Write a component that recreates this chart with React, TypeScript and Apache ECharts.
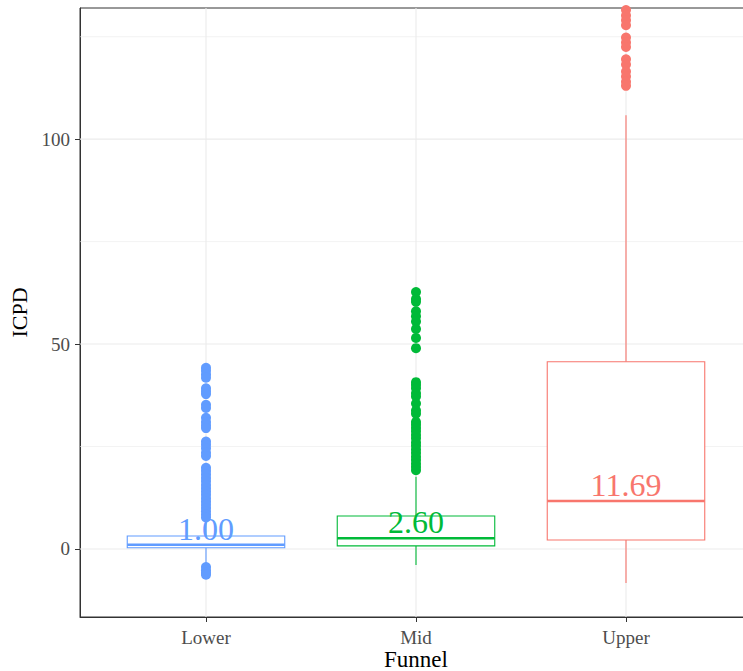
import React, { useEffect, useRef } from "react";
import * as echarts from "echarts";

const categories = ["Lower", "Mid", "Upper"];
const colors = ["#619CFF", "#00BA38", "#F8766D"];
const whiskerLow = [-3.4, -3.9, -8.3];
const q1 = [0.3, 0.75, 2.2];
const medians = [1.0, 2.6, 11.69];
const q3 = [3.15, 8.05, 45.7];
const whiskerHigh = [7.3, 17.6, 105.8];

const lowerOutliers = [
  44.2, 43.5, 42.6, 41.8, 39.2, 38.5, 37.8, 35.2, 34.4, 32.0, 31.0, 30.2, 29.5,
  26.2, 25.4, 24.6, 23.5, 22.7, 19.8, 19.0, 18.2, 17.3, 16.5, 15.6, 14.8, 14.0,
  13.2, 12.4, 11.6, 10.8, 10.0, 9.2, 8.4, 7.7, -4.4, -5.2, -5.8, -6.3,
];
const midOutliers = [
  62.7, 61.0, 60.3, 58.0, 56.8, 55.5, 53.7, 51.5, 49.0, 40.7, 40.0, 39.2, 38.0,
  37.2, 35.5, 33.8, 33.0, 31.0, 30.3, 29.5, 28.7, 27.8, 27.0, 26.0, 25.2, 24.3,
  23.4, 22.5, 21.7, 20.8, 20.0, 19.2,
];
const upperOutliers = [
  131.5, 130.2, 129.0, 127.8, 124.8, 123.6, 122.5, 119.5, 118.2, 116.5, 115.3,
  114.0, 113.0,
];
const outliers = [lowerOutliers, midOutliers, upperOutliers];

const yMajorTicks = [0, 50, 100];
const yMinorTicks = [25, 75, 125];
const yMin = -16.6;
const yMax = 132;
const xTitle = "Funnel";
const yTitle = "ICPD";

const FONT = "'Liberation Serif', 'DejaVu Serif', serif";

export default function App() {
  const ref = useRef<HTMLDivElement>(null);

  useEffect(() => {
    if (!ref.current) return;
    const chart = echarts.init(ref.current, null, { renderer: "svg" });

    const boxData = categories.map((_, i) => [
      i + 1,
      whiskerLow[i],
      q1[i],
      medians[i],
      q3[i],
      whiskerHigh[i],
    ]);

    const option: any = {
      animation: false,
      backgroundColor: "#ffffff",
      grid: {
        left: 80,
        top: 8,
        width: 672,
        height: 609,
        containLabel: false,
        outerBoundsMode: "none",
        show: true,
        borderColor: "#333333",
        borderWidth: 1,
        backgroundColor: "transparent",
      },
      graphic: [
        {
          type: "text",
          x: 416,
          y: 659,
          style: {
            text: xTitle,
            font: `23px ${FONT}`,
            fill: "#000",
            align: "center",
            verticalAlign: "middle",
          },
        },
      ],
      xAxis: {
        type: "value",
        min: 0.4,
        max: 3.6,
        axisLine: { show: true, onZero: false, lineStyle: { color: "#333333", width: 1 } },
        axisTick: {
          show: true,
          customValues: [1, 2, 3],
          length: 5,
          lineStyle: { color: "#333333" },
        },
        axisLabel: {
          customValues: [1, 2, 3],
          formatter: (v: number) => categories[Math.round(v) - 1] ?? "",
          fontFamily: FONT,
          fontSize: 19,
          color: "#4D4D4D",
          margin: 11,
        },
        splitLine: { show: false },
      },
      yAxis: {
        type: "value",
        min: yMin,
        max: yMax,
        name: yTitle,
        nameLocation: "middle",
        nameGap: 50,
        nameTextStyle: { fontFamily: FONT, fontSize: 22, color: "#000" },
        axisLine: { show: true, onZero: false, lineStyle: { color: "#333333", width: 1 } },
        axisTick: {
          show: true,
          customValues: yMajorTicks,
          length: 5,
          lineStyle: { color: "#333333" },
        },
        axisLabel: {
          customValues: yMajorTicks,
          fontFamily: FONT,
          fontSize: 19,
          color: "#4D4D4D",
          margin: 10,
        },
        splitLine: { show: false },
      },
      series: [
        {
          type: "custom",
          name: "hgrid",
          silent: true,
          z: 1,
          data: [
            ...yMajorTicks.map((v) => [1, v, 1]),
            ...yMinorTicks.map((v) => [1, v, 0]),
          ],
          encode: { x: 0, y: 1 },
          renderItem: (params: any, api: any) => {
            const cs = params.coordSys;
            const y = api.coord([1, api.value(1)])[1];
            const major = api.value(2) === 1;
            return {
              type: "line",
              shape: { x1: cs.x, y1: y, x2: cs.x + cs.width, y2: y },
              style: { stroke: "#EBEBEB", lineWidth: major ? 1.1 : 0.6 },
            };
          },
        },
        {
          type: "custom",
          name: "vgrid",
          silent: true,
          z: 1,
          data: categories.map((_, i) => [i + 1, 0]),
          encode: { x: 0, y: 1 },
          renderItem: (params: any, api: any) => {
            const cs = params.coordSys;
            const x = api.coord([api.value(0), 0])[0];
            return {
              type: "line",
              shape: { x1: x, y1: cs.y, x2: x, y2: cs.y + cs.height },
              style: { stroke: "#EBEBEB", lineWidth: 1.1 },
            };
          },
        },
        {
          type: "custom",
          name: "boxes",
          z: 2,
          data: boxData,
          encode: { x: 0, y: [1, 2, 3, 4, 5] },
          renderItem: (params: any, api: any) => {
            const color = colors[params.dataIndex];
            const xv = api.value(0);
            const c = (v: number) => api.coord([xv, v]);
            const halfW = api.size([0.75, 0])[0] / 2;
            const [cx, yLow] = c(api.value(1));
            const yQ1 = c(api.value(2))[1];
            const yMed = c(api.value(3))[1];
            const yQ3 = c(api.value(4))[1];
            const yHigh = c(api.value(5))[1];
            return {
              type: "group",
              children: [
                {
                  type: "line",
                  shape: { x1: cx, y1: yQ3, x2: cx, y2: yHigh },
                  style: { stroke: color, lineWidth: 1.1 },
                },
                {
                  type: "line",
                  shape: { x1: cx, y1: yQ1, x2: cx, y2: yLow },
                  style: { stroke: color, lineWidth: 1.1 },
                },
                {
                  type: "rect",
                  shape: { x: cx - halfW, y: yQ3, width: 2 * halfW, height: yQ1 - yQ3 },
                  style: { fill: "#ffffff", stroke: color, lineWidth: 1.1 },
                },
                {
                  type: "line",
                  shape: { x1: cx - halfW, y1: yMed, x2: cx + halfW, y2: yMed },
                  style: { stroke: color, lineWidth: 2.5 },
                },
              ],
            };
          },
        },
        ...outliers.map((arr, i) => ({
          type: "scatter",
          name: categories[i] + " outliers",
          z: 3,
          clip: true,
          symbol: "circle",
          symbolSize: 10,
          itemStyle: { color: colors[i], opacity: 1 },
          data: arr.map((v) => [i + 1, v]),
        })),
        {
          type: "custom",
          name: "labels",
          z: 4,
          silent: true,
          data: categories.map((_, i) => [i + 1, medians[i]]),
          encode: { x: 0, y: 1 },
          renderItem: (params: any, api: any) => {
            const [x, y] = api.coord([api.value(0), api.value(1)]);
            return {
              type: "text",
              x,
              y: y - 16,
              style: {
                text: Number(api.value(1)).toFixed(2),
                fill: colors[params.dataIndex],
                font: `32px ${FONT}`,
                align: "center",
                verticalAlign: "middle",
              },
            };
          },
        },
      ],
    };

    chart.setOption(option);
    return () => chart.dispose();
  }, []);

  return (
    <div
      ref={ref}
      style={{ position: "absolute", left: 0, top: 0, width: 743, height: 671 }}
    />
  );
}
